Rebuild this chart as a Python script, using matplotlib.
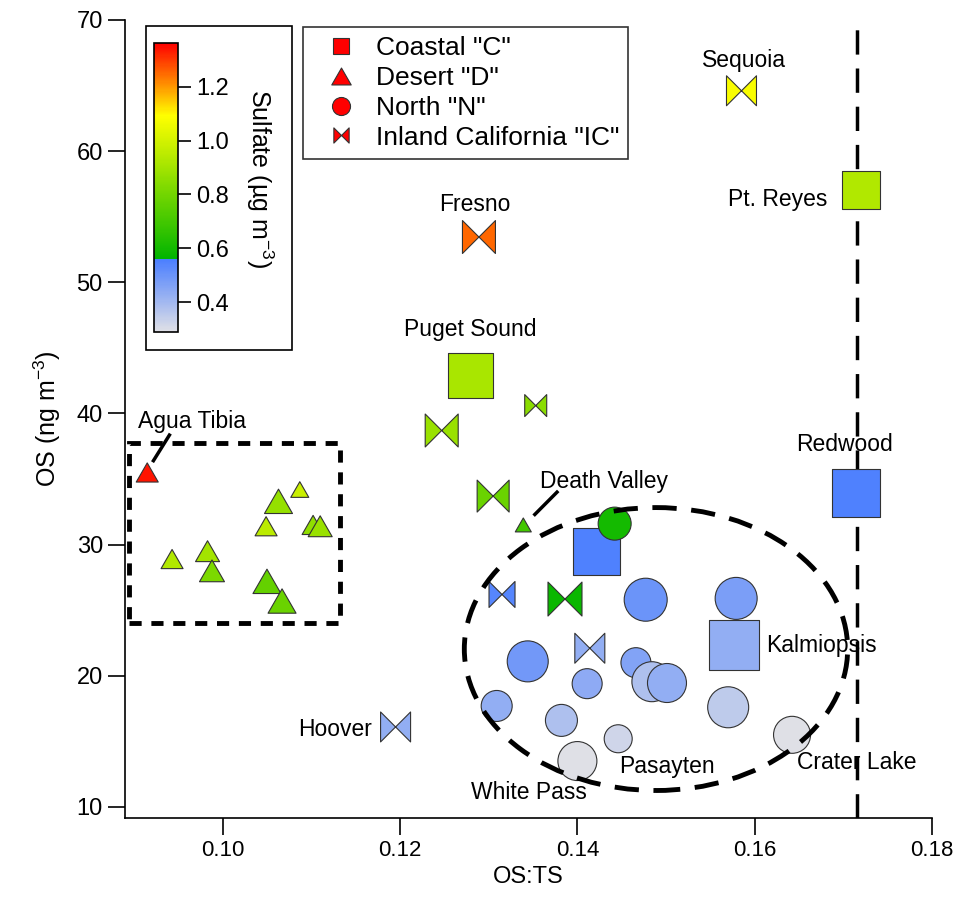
import numpy as np
import matplotlib
matplotlib.use('Agg')
import matplotlib.pyplot as plt
from matplotlib.colors import LinearSegmentedColormap, Normalize
from matplotlib.patches import Ellipse, Rectangle
from matplotlib.path import Path
from matplotlib.lines import Line2D

plt.rcParams['font.family'] = ['Liberation Sans', 'DejaVu Sans']
plt.rcParams['mathtext.default'] = 'regular'

# Coastal "C" (squares)
sq_x = [0.1720, 0.1280, 0.1714, 0.1422, 0.1576]
sq_y = [57.0, 42.9, 33.9, 29.5, 22.35]
sq_sulf = [0.93, 0.91, 0.55, 0.55, 0.43]
sq_size = [38, 45, 48, 47, 50]

# Desert "D" (triangles)
tri_x = [0.0915, 0.0943, 0.0983, 0.0988, 0.1063, 0.1087, 0.1049, 0.1102, 0.1110, 0.1050, 0.1067, 0.1339]
tri_y = [35.5, 28.9, 29.5, 28.0, 33.3, 34.2, 31.4, 31.5, 31.4, 27.2, 25.7, 31.5]
tri_sulf = [1.34, 0.93, 0.90, 0.82, 0.87, 0.98, 0.95, 0.86, 0.88, 0.77, 0.78, 0.70]
tri_size = [22, 22, 24, 25, 28, 18, 22, 22, 24, 28, 28, 16]

# North "N" (circles)
cir_x = [0.1442, 0.1477, 0.1579, 0.1344, 0.1466, 0.1411, 0.1484, 0.1501,
         0.1309, 0.1382, 0.1570, 0.1446, 0.1400, 0.1642]
cir_y = [31.6, 25.8, 25.9, 21.1, 21.0, 19.4, 19.55, 19.45,
         17.7, 16.6, 17.6, 15.2, 13.5, 15.5]
cir_sulf = [0.60, 0.50, 0.47, 0.49, 0.46, 0.44, 0.38, 0.43,
            0.43, 0.38, 0.35, 0.32, 0.29, 0.29]
cir_size = [33, 43, 42, 41, 30, 30, 40, 39, 31, 32, 41, 28, 39, 37]

# Inland California "IC" (bowties)
bow_x = [0.1585, 0.1289, 0.1247, 0.1353, 0.1305, 0.1315, 0.1386, 0.1414, 0.1195]
bow_y = [64.6, 53.45, 38.7, 40.6, 33.7, 26.2, 25.85, 22.1, 16.1]
bow_sulf = [1.08, 1.25, 0.88, 0.85, 0.78, 0.54, 0.58, 0.43, 0.43]
bow_size = [30, 33, 33, 22, 32, 26, 34, 30, 30]

site_names = ['Sequoia', 'Pt. Reyes', 'Fresno', 'Puget Sound', 'Redwood', 'Agua Tibia',
              'Death Valley', 'Kalmiopsis', 'Hoover', 'Pasayten', 'Crater Lake', 'White Pass']
name_x = [0.1588, 0.1682, 0.1284, 0.1279, 0.1701, 0.0966, 0.1430, 0.1613, 0.1168, 0.1501, 0.1715, 0.1345]
name_y = [66.9, 56.3, 55.9, 46.4, 37.6, 39.4, 34.85, 22.3, 15.9, 13.1, 13.4, 11.1]
name_ha = ['center', 'right', 'center', 'center', 'center', 'center',
           'center', 'left', 'right', 'center', 'center', 'center']

cb_ticks = [0.4, 0.6, 0.8, 1.0, 1.2]
vmin, vmax = 0.289, 1.363

cmap = LinearSegmentedColormap.from_list('sulfate', [
    (0.0, '#dfe0e6'),
    (0.2514, '#4a7eff'),
    (0.2519, '#00b400'),
    (0.7486, '#ffff00'),
    (1.0, '#ff0000')])
norm = Normalize(vmin, vmax)

bowtie = Path([(-1, 1), (-1, -1), (0, 0), (1, -1), (1, 1), (0, 0), (-1, 1)],
              [Path.MOVETO] + [Path.LINETO] * 5 + [Path.CLOSEPOLY])
triangle = Path([(-1, -0.87), (1, -0.87), (0, 0.87), (-1, -0.87)],
                [Path.MOVETO, Path.LINETO, Path.LINETO, Path.CLOSEPOLY])

fig = plt.figure(figsize=(9.62, 9.06), dpi=100)
ax = fig.add_axes([0.130, 0.097, 0.839, 0.881])


def pts(px):
    return (np.array(px) * 0.72) ** 2


kw = dict(cmap=cmap, norm=norm, edgecolors='#333333', linewidths=0.8, zorder=4)
ax.scatter(sq_x, sq_y, s=pts(sq_size), c=sq_sulf, marker='s', **kw)
ax.scatter(tri_x, tri_y, s=pts(tri_size), c=tri_sulf, marker=triangle, **kw)
ax.scatter(cir_x, cir_y, s=pts(cir_size), c=cir_sulf, marker='o', **kw)
ax.scatter(bow_x, bow_y, s=pts(bow_size), c=bow_sulf, marker=bowtie, **kw)

# groupings
ax.axvline(0.1715, color='k', lw=2.5, ls=(0, (7, 4)), zorder=3)
ax.add_patch(Ellipse((0.14886, 22.04), 0.04322, 21.57, fill=False, ec='k',
                     lw=3.5, ls=(0, (5, 3)), zorder=5))
ax.add_patch(Rectangle((0.0894, 24.0), 0.1132 - 0.0894, 37.75 - 24.0, fill=False,
                       ec='k', lw=3.5, ls=(0, (2.5, 2)), zorder=5))

for name, x, y, ha in zip(site_names, name_x, name_y, name_ha):
    ax.text(x, y, name, ha=ha, va='center', fontsize=16.5, zorder=2)
ax.plot([0.0922, 0.0940], [36.4, 38.35], color='k', lw=2.5, zorder=3)
ax.plot([0.1352, 0.1377], [32.3, 34.0], color='k', lw=2.5, zorder=3)

ax.set_xlim(0.089, 0.18)
ax.set_ylim(9.15, 70)
ax.set_xticks([0.10, 0.12, 0.14, 0.16, 0.18])
ax.set_xticklabels(['0.10', '0.12', '0.14', '0.16', '0.18'])
ax.set_yticks([10, 20, 30, 40, 50, 60, 70])
for s in ['top', 'right']:
    ax.spines[s].set_visible(False)
for s in ['left', 'bottom']:
    ax.spines[s].set_linewidth(1.2)
ax.tick_params(direction='out', length=12, width=1.2, pad=4)
ax.tick_params(axis='x', labelsize=16)
ax.tick_params(axis='y', labelsize=17)
ax.set_xlabel('OS:TS', fontsize=17, labelpad=3)
ax.set_ylabel('OS (ng m$^{-3}$)', fontsize=18, labelpad=10)

# colorbar
cax = fig.add_axes([154 / 962, 1 - 332 / 906, 24 / 962, 289 / 906])
cb = fig.colorbar(plt.cm.ScalarMappable(norm=norm, cmap=cmap), cax=cax)
cb.set_ticks(cb_ticks)
cb.ax.tick_params(direction='out', length=9, width=1.2, labelsize=17, pad=4)
cb.outline.set_linewidth(1.2)
fig.text(260 / 962, 1 - 178 / 906, 'Sulfate (µg m$^{-3}$)', rotation=270,
         ha='center', va='center', fontsize=18)
fig.patches.append(Rectangle((146 / 962, 1 - 350 / 906), 146 / 962, 324 / 906,
                             transform=fig.transFigure, fill=False, ec='k', lw=1.2))

# legend
mk = dict(ls='none', mfc='red', mec='#333333', mew=0.8)
handles = [Line2D([], [], marker='s', ms=12, **mk),
           Line2D([], [], marker=triangle, ms=14, **mk),
           Line2D([], [], marker='o', ms=13, **mk),
           Line2D([], [], marker=bowtie, ms=11, **mk)]
labels = ['Coastal "C"', 'Desert "D"', 'North "N"', 'Inland California "IC"']
leg = fig.legend(handles, labels, loc='upper left', bbox_to_anchor=(303 / 962, 1 - 27 / 906),
                 fontsize=19, frameon=True, fancybox=False, edgecolor='k',
                 borderpad=0.35, labelspacing=0.22, handletextpad=0.2, handlelength=2.2,
                 borderaxespad=0)
leg.get_frame().set_linewidth(1.2)

fig.savefig('out.png', dpi=100)
